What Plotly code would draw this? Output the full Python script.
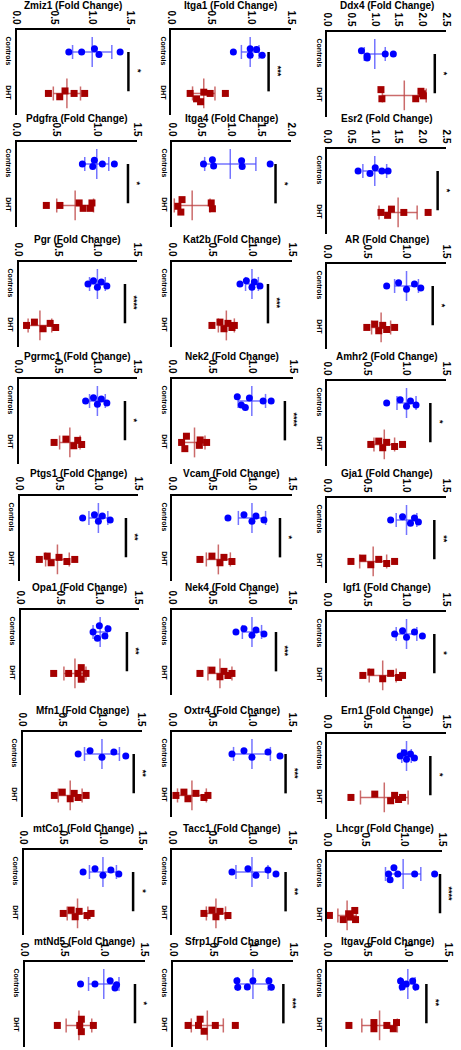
import plotly.graph_objects as go

W, H = 461, 1050

GENES = ["Zmiz1", "Itga1", "Ddx4",
         "Pdgfra", "Itga4", "Esr2",
         "Pgr", "Kat2b", "AR",
         "Pgrmc1", "Nek2", "Amhr2",
         "Ptgs1", "Vcam", "Gja1",
         "Opa1", "Nek4", "Igf1",
         "Mfn1", "Oxtr4", "Ern1",
         "mtCo1", "Tacc1", "Lhcgr",
         "mtNd5", "Sfrp1", "Itgav"]

XMAX = [1.5, 1.5, 2.5,
        1.5, 2.0, 2.5,
        1.5, 1.5, 1.5,
        1.5, 1.5, 1.5,
        1.5, 1.5, 1.5,
        1.5, 1.5, 1.5,
        1.5, 1.5, 1.5,
        1.5, 1.5, 1.5,
        1.5, 1.5, 1.5]

CTRL_X = [
    [0.69, 0.86, 1.03, 1.09, 1.37],
    [0.78, 0.99, 0.99, 1.07, 1.14],
    [0.72, 0.84, 0.84, 1.22, 1.39],
    [0.82, 0.95, 0.97, 1.07, 1.22],
    [0.53, 0.68, 0.70, 1.17, 1.18, 1.65],
    [0.65, 0.90, 1.01, 1.15, 1.28],
    [0.88, 0.95, 1.00, 1.05, 1.12],
    [0.85, 0.93, 1.00, 1.03, 1.10],
    [0.75, 0.90, 1.00, 1.10, 1.18],
    [0.85, 0.95, 1.00, 1.05, 1.12],
    [0.81, 0.86, 0.91, 0.96, 1.13, 1.23],
    [0.75, 0.92, 1.00, 1.05, 1.12],
    [0.80, 0.95, 1.00, 1.05, 1.15],
    [0.70, 0.90, 1.00, 1.05, 1.15],
    [0.80, 0.95, 1.05, 1.10, 1.15],
    [0.92, 0.975, 1.00, 1.07, 1.11],
    [0.80, 0.90, 1.00, 1.05, 1.15],
    [0.85, 0.95, 1.00, 1.10, 1.20],
    [0.70, 0.85, 1.00, 1.15, 1.30],
    [0.75, 0.90, 1.00, 1.20, 1.35],
    [0.92, 0.97, 1.00, 1.05, 1.10],
    [0.75, 0.90, 1.00, 1.10, 1.20],
    [0.75, 0.95, 1.05, 1.20, 1.30],
    [0.80, 0.82, 0.87, 0.92, 1.14, 1.40],
    [0.70, 0.88, 1.07, 1.13, 1.15],
    [0.80, 0.81, 0.93, 1.00, 1.20, 1.23],
    [0.91, 0.93, 0.98, 1.06, 1.10],
]
CTRL_DY = [
    [0, 0, -0.08, 0.06, 0],
    [0, -0.08, 0.08, -0.06, 0.08],
    [-0.08, 0.05, 0.10, 0, 0],
    [0, 0.06, -0.09, 0, 0],
    [0, -0.10, 0.05, -0.08, 0.06, 0],
    [0, 0.06, -0.08, 0, 0],
    [0, -0.08, 0.08, -0.05, 0.05],
    [0, -0.08, 0.08, -0.05, 0.05],
    [0, -0.08, 0.08, -0.05, 0.05],
    [0, -0.08, 0.08, -0.05, 0.05],
    [-0.10, 0.10, 0.16, -0.07, 0, 0],
    [0, -0.08, 0.08, -0.05, 0.05],
    [0, -0.08, 0.08, -0.05, 0.05],
    [0, -0.08, 0.08, -0.05, 0.05],
    [0, -0.08, 0.08, -0.05, 0.05],
    [0, 0.15, -0.15, 0.10, -0.08],
    [0, -0.08, 0.08, -0.05, 0.05],
    [0, -0.08, 0.08, -0.05, 0.05],
    [0, -0.08, 0.08, -0.05, 0.05],
    [0, -0.08, 0.08, -0.05, 0.05],
    [0, -0.08, 0.08, -0.05, 0.05],
    [0, -0.08, 0.08, -0.05, 0.05],
    [0, -0.08, 0.08, -0.05, 0.05],
    [0, 0.14, -0.15, 0, 0, 0],
    [0, 0, -0.08, 0.10, 0.02],
    [-0.08, 0.08, 0.07, -0.08, -0.08, 0.08],
    [-0.07, 0.07, 0, -0.07, 0.07],
]
CTRL_MEAN = [1.0, 0.99, 1.0, 1.0, 0.98, 1.0,
             1.0, 1.0, 1.0, 1.0, 0.99, 1.0,
             1.0, 1.0, 1.0, 1.01, 1.0, 1.0,
             1.0, 1.0, 1.0, 1.0, 1.0, 0.99,
             0.99, 1.0, 1.0]
CTRL_SD = [0.26, 0.11, 0.22, 0.15, 0.43, 0.25,
           0.10, 0.08, 0.15, 0.10, 0.17, 0.12,
           0.12, 0.17, 0.13, 0.09, 0.12, 0.13,
           0.22, 0.23, 0.06, 0.17, 0.20, 0.23,
           0.19, 0.19, 0.09]

DHT_X = [
    [0.42, 0.57, 0.64, 0.76, 0.90],
    [0.24, 0.32, 0.37, 0.41, 0.49, 0.68],
    [1.13, 1.15, 1.86, 1.97, 2.00, 2.02],
    [0.37, 0.54, 0.78, 0.83, 0.92, 0.94],
    [0.10, 0.15, 0.17, 0.66, 0.68],
    [1.13, 1.27, 1.35, 1.61, 2.12],
    [0.10, 0.20, 0.31, 0.40, 0.47],
    [0.50, 0.60, 0.65, 0.70, 0.75, 0.78],
    [0.50, 0.60, 0.65, 0.70, 0.75, 0.85],
    [0.45, 0.60, 0.70, 0.75, 0.80],
    [0.12, 0.16, 0.18, 0.34, 0.35, 0.43],
    [0.55, 0.65, 0.70, 0.75, 0.85, 0.95],
    [0.25, 0.35, 0.40, 0.50, 0.60, 0.70],
    [0.35, 0.50, 0.60, 0.65, 0.75],
    [0.30, 0.45, 0.55, 0.65, 0.75, 0.85],
    [0.42, 0.61, 0.73, 0.77, 0.77, 0.83],
    [0.35, 0.50, 0.60, 0.65, 0.70, 0.75],
    [0.45, 0.55, 0.70, 0.80, 0.90, 0.95],
    [0.40, 0.50, 0.60, 0.65, 0.70, 0.80],
    [0.05, 0.15, 0.20, 0.30, 0.40, 0.45],
    [0.30, 0.60, 0.80, 0.85, 0.90, 0.95],
    [0.50, 0.60, 0.65, 0.70, 0.80, 0.85],
    [0.40, 0.50, 0.55, 0.60, 0.70],
    [0.03, 0.21, 0.28, 0.30, 0.36, 0.37],
    [0.41, 0.69, 0.71, 0.71, 0.86],
    [0.19, 0.32, 0.34, 0.39, 0.53, 0.78],
    [0.27, 0.58, 0.58, 0.74, 0.82, 0.86],
]
DHT_DY = [
    [0, 0.08, -0.06, 0, 0],
    [0, 0.13, 0.20, -0.03, 0, 0],
    [-0.14, 0.08, 0.08, -0.10, -0.04, 0.01],
    [0, 0, -0.06, 0.07, 0.07, -0.06],
    [0.02, 0.16, -0.14, -0.06, 0.08],
    [0, 0.07, -0.08, 0, 0],
    [0, -0.08, 0.08, -0.05, 0.05],
    [0, -0.08, 0.08, -0.05, 0.05, 0],
    [0, -0.08, 0.08, -0.05, 0.05, 0],
    [0, -0.08, 0.08, -0.05, 0.05],
    [0, 0.15, -0.15, 0.07, -0.06, 0],
    [0, -0.08, 0.08, -0.05, 0.05, 0],
    [0, -0.08, 0.08, -0.05, 0.05, 0],
    [0, -0.08, 0.08, -0.05, 0.05],
    [0, -0.08, 0.08, -0.05, 0.05, 0],
    [0, 0, 0, -0.14, 0.14, 0],
    [0, -0.08, 0.08, -0.05, 0.05, 0],
    [0, -0.08, 0.08, -0.05, 0.05, 0],
    [0, -0.08, 0.08, -0.05, 0.05, 0],
    [0, -0.08, 0.08, -0.05, 0.05, 0],
    [0, -0.08, 0.08, -0.05, 0.05, 0],
    [0, -0.08, 0.08, -0.05, 0.05, 0],
    [0, -0.08, 0.08, -0.05, 0.05],
    [0, 0.10, -0.04, 0.04, -0.12, 0.10],
    [0, 0, -0.15, 0.15, 0],
    [0, 0, -0.15, 0.14, 0, 0],
    [0, -0.07, 0.08, 0, 0.08, -0.07],
]
DHT_MEAN = [0.665, 0.41, 1.62, 0.73, 0.34, 1.49,
            0.27, 0.68, 0.68, 0.65, 0.28, 0.72,
            0.48, 0.58, 0.58, 0.69, 0.60, 0.70,
            0.60, 0.25, 0.72, 0.68, 0.55, 0.26,
            0.68, 0.43, 0.65]
DHT_SD = [0.18, 0.14, 0.46, 0.23, 0.30, 0.40,
          0.15, 0.10, 0.12, 0.13, 0.13, 0.13,
          0.15, 0.15, 0.17, 0.14, 0.15, 0.17,
          0.15, 0.18, 0.30, 0.13, 0.12, 0.12,
          0.16, 0.20, 0.22]

SIG_X = [1.48, 1.22, 2.26, 1.39, 1.74, 2.32,
         1.35, 1.20, 1.33, 1.35, 1.40, 1.30,
         1.35, 1.35, 1.35, 1.35, 1.30, 1.35,
         1.40, 1.42, 1.30, 1.38, 1.42, 1.47,
         1.38, 1.38, 1.23]
SIG_LABEL = ["*", "***", "*", "*", "*", "*",
             "****", "***", "*", "*", "****", "*",
             "**", "*", "**", "**", "***", "*",
             "**", "***", "*", "*", "**", "****",
             "*", "***", "**"]

# ---- panel geometry (pixels) ----
ROW_TOP = [30, 142, 262, 379, 496, 610, 732, 850, 962]
COL3_DY = [2, 7, 2, 2, 2, 2, 2, 2, 0]
TITLE_UP = [24, 23, 23, 23, 23, 23, 22, 22, 21]
COL_X0 = [[12, 170, 330], [12, 171, 330], [14, 171, 330], [14, 171, 330], [15, 171, 330],
          [16, 171, 330], [18, 171, 330], [19, 171, 330], [20, 172, 330]]
COL_W = [[116, 123, 122], [123, 122, 122], [121, 123, 122], [121, 124, 122], [121, 123, 122],
         [121, 123, 122], [122, 123, 122], [122, 123, 118], [123, 123, 124]]
PANEL_H = 85

FONT = "Liberation Sans, Arial, sans-serif"
BLUE = "#0000ff"
BLUE_ERR = "rgba(70,70,255,0.75)"
RED = "#a50000"
RED_ERR = "rgba(190,70,70,0.8)"

fig = go.Figure()
annotations = []
layout = {}


def err_path(m, sd, yc):
    xs = [m - sd, m + sd, None, m, m, None, m - sd, m - sd, None, m + sd, m + sd]
    ys = [yc, yc, None, yc - 0.36, yc + 0.36, None, yc - 0.17, yc + 0.17, None, yc - 0.17, yc + 0.17]
    return xs, ys


for i, g in enumerate(GENES):
    r, c = divmod(i, 3)
    x0 = COL_X0[r][c]
    x1 = x0 + COL_W[r][c]
    top = ROW_TOP[r] + (COL3_DY[r] if c == 2 else 0)
    title_y = ROW_TOP[r] - TITLE_UP[r]
    bot = top + PANEL_H
    xr = "x" if i == 0 else f"x{i + 1}"
    yr = "y" if i == 0 else f"y{i + 1}"
    xk = "xaxis" if i == 0 else f"xaxis{i + 1}"
    yk = "yaxis" if i == 0 else f"yaxis{i + 1}"
    xmax = XMAX[i]
    tv = [k * 0.5 for k in range(int(round(xmax / 0.5)) + 1)]
    layout[xk] = dict(
        domain=[x0 / W, x1 / W], anchor=yr, side="top", range=[0, xmax],
        tickvals=tv, ticktext=[f"{v:.1f}" for v in tv], tickangle=90,
        showline=True, linecolor="black", linewidth=2, ticks="",
        showgrid=False, zeroline=False,
        tickfont=dict(family=FONT, size=10, color="black", weight="bold"),
        fixedrange=True,
    )
    layout[yk] = dict(
        domain=[1 - bot / H, 1 - top / H], anchor=xr, range=[1.52, -0.53],
        tickvals=[0, 1], ticktext=["Controls", "DHT"], tickangle=90,
        showline=True, linecolor="black", linewidth=2, ticks="",
        showgrid=False, zeroline=False,
        tickfont=dict(family=FONT, size=7, color="black", weight="bold"),
        fixedrange=True,
    )
    # error bars
    ex, ey = err_path(CTRL_MEAN[i], CTRL_SD[i], 0)
    fig.add_trace(go.Scatter(x=ex, y=ey, xaxis=xr, yaxis=yr, mode="lines",
                             line=dict(color=BLUE_ERR, width=1.5), hoverinfo="skip"))
    ex, ey = err_path(DHT_MEAN[i], DHT_SD[i], 1)
    fig.add_trace(go.Scatter(x=ex, y=ey, xaxis=xr, yaxis=yr, mode="lines",
                             line=dict(color=RED_ERR, width=1.5), hoverinfo="skip"))
    # points
    fig.add_trace(go.Scatter(x=CTRL_X[i], y=[0 + d for d in CTRL_DY[i]], xaxis=xr, yaxis=yr,
                             mode="markers", cliponaxis=False,
                             marker=dict(symbol="circle", size=7, color=BLUE)))
    fig.add_trace(go.Scatter(x=DHT_X[i], y=[1 + d for d in DHT_DY[i]], xaxis=xr, yaxis=yr,
                             mode="markers", cliponaxis=False,
                             marker=dict(symbol="square", size=7, color=RED)))
    # significance bar
    fig.add_trace(go.Scatter(x=[SIG_X[i], SIG_X[i]], y=[0.0, 0.95], xaxis=xr, yaxis=yr,
                             mode="lines", line=dict(color="black", width=2.5),
                             hoverinfo="skip"))
    annotations.append(dict(
        x=SIG_X[i], y=0.47, xref=xr, yref=yr, text=SIG_LABEL[i], showarrow=False,
        xshift=9, textangle=90, font=dict(family=FONT, size=9, color="black", weight="bold")))
    # title
    annotations.append(dict(
        x=(x0 + x1) / 2 / W, y=1 - title_y / H, xref="paper", yref="paper",
        text=f"{g} (Fold Change)", showarrow=False, xanchor="center", yanchor="middle",
        font=dict(family=FONT, size=10, color="black", weight="bold")))

fig.update_layout(
    width=W, height=H, margin=dict(l=0, r=0, t=0, b=0),
    paper_bgcolor="white", plot_bgcolor="white", showlegend=False,
    annotations=annotations, **layout)

fig.write_html("out.html", config={"displayModeBar": False},
               post_script="document.body.style.margin='0px';")
